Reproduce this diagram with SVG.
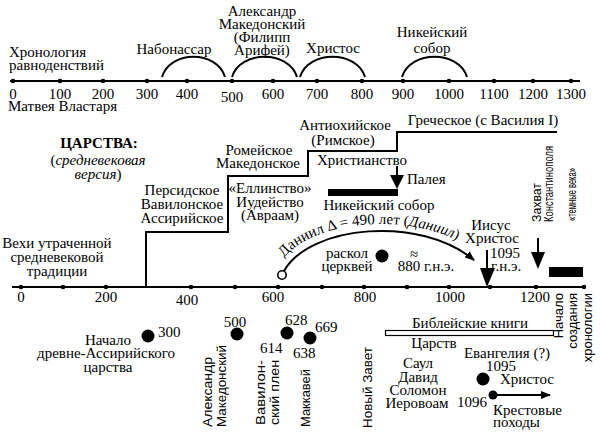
<svg xmlns="http://www.w3.org/2000/svg" width="600" height="433" viewBox="0 0 600 433">
<defs>
<style>
.t{font-family:"Liberation Serif","DejaVu Serif",serif;font-size:15px;fill:#000}
.c{text-anchor:middle}
.s{font-family:"Liberation Sans","DejaVu Sans",sans-serif;font-size:13px;fill:#000}
.ln{stroke:#000;fill:none;stroke-width:2}
.ax{stroke:#000;stroke-width:2}
.dot{fill:#000}
</style>
<marker id="ah" markerWidth="10" markerHeight="8" refX="9" refY="4" orient="auto" markerUnits="userSpaceOnUse">
<path d="M0,0 L10,4 L0,8 Z" fill="#000"/>
</marker>
<path id="danP" d="M279,265 C305,218 420,208 478,253"/>
</defs>
<rect width="600" height="433" fill="#fff"/>

<!-- top axis -->
<g id="top-axis">
<line class="ax" x1="10" y1="81" x2="580" y2="81"/>
<g class="dot">
<circle cx="13" cy="81" r="2.3"/><circle cx="60" cy="81" r="2.3"/><circle cx="103" cy="81" r="2.3"/><circle cx="147" cy="81" r="2.3"/><circle cx="187" cy="81" r="2.3"/><circle cx="232" cy="81" r="2.3"/><circle cx="273" cy="81" r="2.3"/><circle cx="317" cy="81" r="2.3"/><circle cx="362" cy="81" r="2.3"/><circle cx="403" cy="81" r="2.3"/><circle cx="449" cy="81" r="2.3"/><circle cx="494" cy="81" r="2.3"/><circle cx="533" cy="81" r="2.3"/><circle cx="571" cy="81" r="2.3"/>
</g>
<g class="t c">
<text x="13" y="99">0</text><text x="60" y="99">100</text><text x="103" y="99">200</text><text x="147" y="99">300</text><text x="187" y="99">400</text><text x="232" y="102">500</text><text x="273" y="99">600</text><text x="317" y="99">700</text><text x="362" y="99">800</text><text x="403" y="99">900</text><text x="449" y="99">1000</text><text x="494" y="99">1100</text><text x="533" y="99">1200</text><text x="571" y="99">1300</text>
</g>
<text class="t" x="8" y="111">Матвея Властаря</text>
<text class="t" x="9" y="57">Хронология</text>
<text class="t" x="9" y="70">равноденствий</text>
</g>

<g id="top-arcs">
<path class="ln" d="M162,77 C170,50 217,50 225,77"/>
<path class="ln" d="M232,77 C240,50 289,50 297,77"/>
<path class="ln" d="M300,77 C308,50 357,50 365,77"/>
<path class="ln" d="M402,77 C410,50 459,50 467,77"/>
</g>
<g id="top-labels" class="t c">
<text x="174" y="54">Набонассар</text>
<text x="262" y="16">Александр</text>
<text x="262" y="29">Македонский</text>
<text x="262" y="42">(Филипп</text>
<text x="262" y="55">Арифей)</text>
<text x="333" y="53">Христос</text>
<text x="432" y="37">Никейский</text>
<text x="432" y="53">собор</text>
</g>

<!-- kingdoms -->
<g id="title" class="t c">
<text x="99" y="148" font-weight="bold">ЦАРСТВА:</text>
<text x="98" y="165">(<tspan font-style="italic">средневековая</tspan></text>
<text x="98" y="179"><tspan font-style="italic">версия</tspan>)</text>
</g>
<g id="stairs">
<path class="ln" d="M146,287 V232 H228 V176 H308 V151 H397 V132 H557"/>
</g>
<g id="k1" class="t c"><text x="182" y="195">Персидское</text><text x="182" y="209">Вавилонское</text><text x="182" y="223">Ассирийское</text></g>
<g id="k2" class="t c"><text x="259" y="155">Ромейское</text><text x="258" y="168">Македонское</text></g>
<g id="k3" class="t c"><text x="270" y="193">«Еллинство»</text><text x="270" y="207">Иудейство</text><text x="270" y="220">(Авраам)</text></g>
<g id="k4" class="t c"><text x="345" y="130">Антиохийское</text><text x="343" y="145">(Римское)</text><text x="362" y="165">Христианство</text></g>
<g id="k5" class="t c"><text x="483" y="125">Греческое (с Василия I)</text></g>

<g id="paleya">
<line class="ln" x1="397" y1="166" x2="397" y2="177"/>
<path d="M390,175 L404,175 L397,189 Z" fill="#000"/>
<text class="t" x="407" y="184">Палея</text>
</g>
<g id="nicaea">
<rect x="328" y="189" width="70" height="7" fill="#000"/>
<text class="t c" x="379" y="210">Никейский собор</text>
</g>

<g id="daniel">
<path class="ln" d="M284,271 C310,225 420,215 474,260" marker-end="url(#ah)"/>
<circle cx="282" cy="275" r="4.2" fill="#fff" stroke="#000" stroke-width="1.6"/>
<text class="t" font-size="14"><textPath href="#danP" startOffset="9">Даниил Δ = 490 лет (<tspan font-style="italic">Даниил</tspan>)</textPath></text>
</g>

<g id="schism">
<circle class="dot" cx="382" cy="256" r="6.5"/>
<text class="t c" x="347" y="258">раскол</text>
<text class="t c" x="347" y="271">церквей</text>
<text class="t c" x="414" y="259" font-size="17">≈</text>
<text class="t c" x="426" y="271">880 г.н.э.</text>
</g>

<g id="jesus">
<text class="t c" x="491" y="230">Иисус</text>
<text class="t c" x="492" y="243">Христос</text>
<line class="ln" x1="487" y1="250" x2="487" y2="270"/>
<path d="M480,268 L495,268 L487,287 Z" fill="#000"/>
<text class="t" x="490" y="258">1095</text>
<text class="t" x="491" y="271">г.н.э.</text>
</g>

<g id="constantinople">
<text class="s" transform="translate(541,222) rotate(-90)" textLength="39" lengthAdjust="spacingAndGlyphs">Захват</text>
<text class="s" transform="translate(553,222) rotate(-90)" textLength="76" lengthAdjust="spacingAndGlyphs">Константинополя</text>
<line class="ln" x1="538" y1="238" x2="538" y2="255"/>
<path d="M531,252 L545,252 L538,269 Z" fill="#000"/>
</g>
<g id="dark-ages">
<text class="s" font-size="11" transform="translate(576,221) rotate(-90)" textLength="53" lengthAdjust="spacingAndGlyphs">«темные века»</text>
<rect x="549" y="267" width="34" height="10" fill="#000"/>
</g>

<g id="milestones" class="t c">
<text x="57" y="248">Вехи утраченной</text>
<text x="57" y="262">средневековой</text>
<text x="57" y="276">традиции</text>
</g>

<!-- main axis -->
<g id="main-axis">
<line class="ax" x1="12" y1="287" x2="585" y2="287"/>
<g class="dot">
<circle cx="21" cy="287" r="2.3"/><circle cx="63" cy="287" r="2.3"/><circle cx="106" cy="287" r="2.3"/><circle cx="191" cy="287" r="2.3"/><circle cx="235" cy="287" r="2.3"/><circle cx="278" cy="287" r="2.3"/><circle cx="322" cy="287" r="2.3"/><circle cx="364" cy="287" r="2.3"/><circle cx="407" cy="287" r="2.3"/><circle cx="449" cy="287" r="2.3"/><circle cx="490" cy="287" r="2.3"/><circle cx="536" cy="287" r="2.3"/><circle cx="584" cy="287" r="2.3"/>
</g>
<g class="t c">
<text x="21" y="302">0</text><text x="106" y="302">200</text><text x="187" y="305">400</text><text x="273" y="302">600</text><text x="365" y="302">800</text><text x="450" y="302">1000</text><text x="535" y="302">1200</text>
</g>
</g>

<!-- lower section -->
<g id="assyria">
<circle class="dot" cx="148" cy="336" r="6.5"/>
<text class="t" x="158" y="337">300</text>
<text class="t c" x="108" y="345">Начало</text>
<text class="t c" x="106" y="358">древне-Ассирийского</text>
<text class="t c" x="108" y="372">царства</text>
</g>
<g id="alexander">
<circle class="dot" cx="237" cy="334" r="6.5"/>
<text class="t c" x="235" y="327">500</text>
<text class="s" transform="translate(212,427) rotate(-90)" textLength="70" lengthAdjust="spacingAndGlyphs">Александр</text>
<text class="s" transform="translate(226,427) rotate(-90)" textLength="82" lengthAdjust="spacingAndGlyphs">Македонский</text>
</g>
<g id="babylon">
<circle class="dot" cx="287" cy="333" r="6.5"/>
<text class="t" x="285" y="325">628</text>
<text class="t" x="260" y="353">614</text>
<text class="s" transform="translate(265,425) rotate(-90)" textLength="65" lengthAdjust="spacingAndGlyphs">Вавилон-</text>
<text class="s" transform="translate(279,425) rotate(-90)" textLength="65" lengthAdjust="spacingAndGlyphs">ский плен</text>
</g>
<g id="maccabees">
<circle class="dot" cx="310" cy="338" r="6.5"/>
<text class="t" x="315" y="332">669</text>
<text class="t" x="293" y="358">638</text>
<text class="s" transform="translate(310,427) rotate(-90)" textLength="58" lengthAdjust="spacingAndGlyphs">Маккавей</text>
</g>
<g id="new-testament">
<text class="s" transform="translate(372,428) rotate(-90)" textLength="81" lengthAdjust="spacingAndGlyphs">Новый Завет</text>
</g>
<g id="bible-books">
<text class="t c" x="470" y="328">Библейские книги</text>
<rect x="385.5" y="330.5" width="168" height="5" fill="#fff" stroke="#000" stroke-width="1.2"/>
<text class="t c" x="434" y="348">Царств</text>
</g>
<g id="chronology-start">
<text class="s" text-anchor="end" transform="translate(563,293) rotate(-90)">Начало</text>
<text class="s" text-anchor="end" transform="translate(577,293) rotate(-90)">создания</text>
<text class="s" text-anchor="end" transform="translate(592,293) rotate(-90)">хронологии</text>
</g>
<g id="kings" class="t c">
<text x="418" y="368">Саул</text>
<text x="418" y="382">Давид</text>
<text x="418" y="395">Соломон</text>
<text x="417" y="408">Иеровоам</text>
</g>
<g id="gospels">
<text class="t c" x="507" y="358">Евангелия (?)</text>
<text class="t c" x="501" y="371">1095</text>
<circle class="dot" cx="483" cy="379" r="6.5"/>
<text class="t" x="500" y="384">Христос</text>
</g>
<g id="crusades">
<circle class="dot" cx="493" cy="395" r="4.5"/>
<line class="ln" x1="493" y1="395" x2="550" y2="395" marker-end="url(#ah)"/>
<text class="t" x="457" y="407">1096</text>
<text class="t" x="493" y="415">Крестовые</text>
<text class="t" x="493" y="427">походы</text>
</g>
</svg>
